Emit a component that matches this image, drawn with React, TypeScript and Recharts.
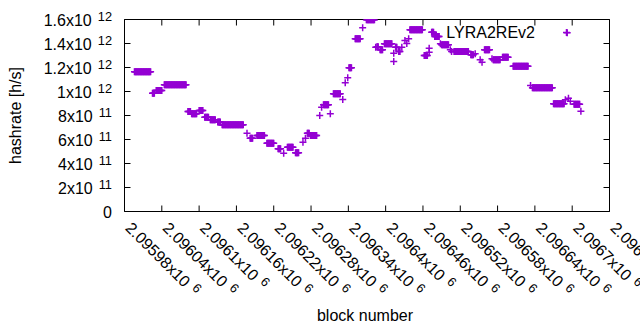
import { ScatterChart, Scatter, XAxis, YAxis, ReferenceArea, Legend } from 'recharts'

// runs of consecutive blocks sharing one hashrate estimate (from === to for single blocks)
const runFrom = [
  2095996, 2096025, 2096031, 2096044, 2096082, 2096088, 2096100, 2096109, 2096118, 2096130,
  2096137, 2096177, 2096182, 2096193, 2096209, 2096227, 2096236, 2096242, 2096255, 2096267,
  2096271, 2096274, 2096279, 2096294, 2096297, 2096300, 2096311, 2096316, 2096331, 2096335,
  2096339, 2096341, 2096351, 2096363, 2096369, 2096384, 2096386, 2096391, 2096398, 2096413,
  2096413, 2096416, 2096421, 2096426, 2096431, 2096434, 2096437, 2096439, 2096462, 2096470,
  2096470, 2096474, 2096479, 2096488, 2096490, 2096504, 2096506, 2096510, 2096537, 2096544,
  2096552, 2096555, 2096559, 2096571, 2096573, 2096588, 2096605, 2096633, 2096636, 2096670,
  2096689, 2096692, 2096694, 2096697, 2096703, 2096714,
]
const runTo = [
  2096022, 2096028, 2096040, 2096079, 2096086, 2096096, 2096106, 2096115, 2096126, 2096134,
  2096171, 2096177, 2096186, 2096205, 2096220, 2096231, 2096236, 2096251, 2096260, 2096267,
  2096271, 2096277, 2096289, 2096294, 2096297, 2096308, 2096311, 2096327, 2096331, 2096335,
  2096339, 2096345, 2096359, 2096363, 2096382, 2096384, 2096388, 2096395, 2096410, 2096413,
  2096413, 2096418, 2096423, 2096426, 2096431, 2096434, 2096437, 2096459, 2096467, 2096470,
  2096470, 2096477, 2096486, 2096488, 2096501, 2096504, 2096506, 2096533, 2096541, 2096544,
  2096552, 2096555, 2096567, 2096571, 2096584, 2096597, 2096629, 2096633, 2096668, 2096687,
  2096689, 2096692, 2096694, 2096697, 2096712, 2096714,
]
const runHash = [
  1.164e12, 0.986e12, 1.008e12, 1.056e12, 0.833e12, 0.814e12, 0.842e12, 0.786e12, 0.764e12, 0.745e12,
  0.722e12, 0.652e12, 0.611e12, 0.633e12, 0.569e12, 0.522e12, 0.486e12, 0.536e12, 0.489e12, 0.578e12,
  0.611e12, 0.652e12, 0.633e12, 0.8e12, 0.869e12, 0.889e12, 0.814e12, 0.981e12, 0.933e12, 1.072e12,
  1.114e12, 1.197e12, 1.439e12, 1.531e12, 1.598e12, 1.369e12, 1.372e12, 1.347e12, 1.397e12, 1.319e12,
  1.25e12, 1.369e12, 1.333e12, 1.369e12, 1.425e12, 1.4e12, 1.439e12, 1.514e12, 1.3e12, 1.361e12,
  1.328e12, 1.494e12, 1.458e12, 1.397e12, 1.389e12, 1.347e12, 1.333e12, 1.333e12, 1.306e12, 1.314e12,
  1.264e12, 1.244e12, 1.347e12, 1.272e12, 1.264e12, 1.286e12, 1.211e12, 1.05e12, 1.031e12, 0.897e12,
  0.931e12, 1.489e12, 0.944e12, 0.919e12, 0.893e12, 0.836e12,
]

const xTicks = [
  2095980, 2096040, 2096100, 2096160, 2096220, 2096280, 2096340,
  2096400, 2096460, 2096520, 2096580, 2096640, 2096700, 2096760,
]
const yTicks = [0, 2e11, 4e11, 6e11, 8e11, 1e12, 1.2e12, 1.4e12, 1.6e12]

const SERIES = 'LYRA2REv2'
const PURPLE = '#9400d3'
const FONT = '"Liberation Sans", Arial, sans-serif'

// plot box (gnuplot style border with inward tics)
const PLOT_LEFT = 124.5
const PLOT_RIGHT = 609.5
const PLOT_TOP = 19.5
const PLOT_BOTTOM = 211.5
const TIC = 6

const points = runFrom.flatMap((from, i) => {
  const out: { block: number; hashrate: number }[] = []
  for (let b = from; b <= runTo[i]; b++) out.push({ block: b, hashrate: runHash[i] })
  return out
})

// 2.09598e6 -> { mant: '2.09598', exp: '6' }
const sci = (v: number) => {
  if (v === 0) return { mant: '0', exp: '' }
  const exp = Math.floor(Math.log10(v) + 1e-9)
  const mant = parseFloat((v / 10 ** exp).toPrecision(6))
  return { mant: String(mant), exp: String(exp) }
}

const Plus = ({ cx, cy, size = 3.5, color = PURPLE }: any) => (
  <path d={`M${cx - size},${cy}h${size * 2}M${cx},${cy - size}v${size * 2}`}
    stroke={color} strokeWidth={1.5} fill="none" />
)

const XTick = ({ x, payload }: any) => {
  const { mant, exp } = sci(payload.value)
  return (
    <g>
      <line x1={x} x2={x} y1={PLOT_BOTTOM} y2={PLOT_BOTTOM - TIC} stroke="#000" />
      <line x1={x} x2={x} y1={PLOT_TOP} y2={PLOT_TOP + TIC} stroke="#000" />
      <g transform={`translate(${x},${PLOT_BOTTOM + 17.5}) rotate(45)`}>
        <text x={0} y={0} fontSize={16} fontFamily={FONT} fill="#000">
          {mant}x10<tspan dx={6} dy={-5} fontSize={12.8}>{exp}</tspan>
        </text>
      </g>
    </g>
  )
}

const YTick = ({ y, payload }: any) => {
  const { mant, exp } = sci(payload.value)
  return (
    <g>
      <line x1={PLOT_LEFT} x2={PLOT_LEFT + TIC} y1={y} y2={y} stroke="#000" />
      <line x1={PLOT_RIGHT} x2={PLOT_RIGHT - TIC} y1={y} y2={y} stroke="#000" />
      <text x={112} y={y + 6} textAnchor="end" fontSize={16} fontFamily={FONT} fill="#000">
        {exp ? <>{mant}x10<tspan dx={6} dy={-5} fontSize={12.8}>{exp}</tspan></> : mant}
      </text>
    </g>
  )
}

const KeyBox = ({ payload }: any) => {
  const item = payload?.[0]
  return (
    <svg width={640} height={330}>
      <text x={535} y={37.5} textAnchor="end" fontSize={16} fontFamily={FONT} fill="#000">
        {item?.value ?? SERIES}
      </text>
      <Plus cx={566.5} cy={32.5} />
    </svg>
  )
}

export default function App() {
  return (
    <div style={{ position: 'absolute', left: 0, top: 0, background: '#fff' }}>
      <ScatterChart width={640} height={330}
        margin={{ top: PLOT_TOP, right: 640 - PLOT_RIGHT, left: 0, bottom: 0 }}>
        <XAxis type="number" dataKey="block" domain={[xTicks[0], xTicks[xTicks.length - 1]]}
          ticks={xTicks} interval={0} allowDataOverflow
          height={330 - PLOT_BOTTOM} tickSize={0} tickMargin={0}
          tickLine={false} axisLine={false} tick={<XTick />}
          label={({ viewBox }: any) => (
            <text x={viewBox.x + viewBox.width / 2 - 2} y={321} textAnchor="middle"
              fontSize={16} fontFamily={FONT} fill="#000">block number</text>
          )}
        />
        <YAxis type="number" dataKey="hashrate" domain={[0, 1.6e12]}
          ticks={yTicks} interval={0} allowDataOverflow
          width={PLOT_LEFT} tickSize={0} tickMargin={0}
          tickLine={false} axisLine={false} tick={<YTick />}
          label={({ viewBox }: any) => {
            const cy = viewBox.y + viewBox.height / 2
            return (
              <text x={21} y={cy} transform={`rotate(-90 21 ${cy})`} textAnchor="middle"
                fontSize={16} fontFamily={FONT} fill="#000">hashrate [h/s]</text>
            )
          }}
        />
        <ReferenceArea x1={xTicks[0]} x2={xTicks[xTicks.length - 1]} y1={0} y2={1.6e12}
          fill="none" stroke="#000" strokeWidth={1} fillOpacity={0} />
        <Legend layout="vertical" verticalAlign="middle" align="center"
          wrapperStyle={{ left: 0, top: 0, width: 640, height: 330, pointerEvents: 'none' }}
          content={<KeyBox />} />
        <Scatter name={SERIES} data={points} fill={PURPLE} isAnimationActive={false}
          shape={(p: any) => <Plus cx={p.cx} cy={p.cy} />} />
      </ScatterChart>
    </div>
  )
}
